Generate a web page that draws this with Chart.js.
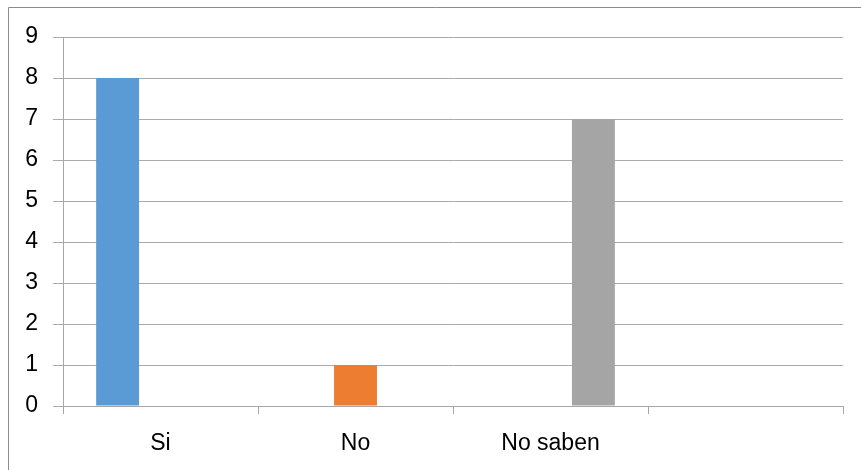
<!DOCTYPE html>
<html>
<head>
<meta charset="utf-8">
<script src="https://cdn.jsdelivr.net/npm/chart.js@4/dist/chart.umd.min.js"></script>
<style>
  html, body { margin: 0; padding: 0; background: #ffffff; }
  #wrap { width: 861px; height: 470px; position: relative; }
</style>
</head>
<body>
<div id="wrap"><canvas id="chart" width="861" height="470"></canvas></div>
<script>
// Survey answers: each answer is its own series, placed in its own category
const categories = ['Si', 'No', 'No saben', ''];
const siValues = [8, null, null, null];
const noValues = [null, 1, null, null];
const noSabenValues = [null, null, 7, null];
const yTicks = [0, 1, 2, 3, 4, 5, 6, 7, 8, 9];

const FONT = { family: '"Liberation Sans", Arial, sans-serif', size: 23 };

// Thin frame along the top and left of the chart box
const framePlugin = {
  id: 'frame',
  beforeDraw(chart) {
    const ctx = chart.ctx;
    ctx.save();
    ctx.fillStyle = '#ffffff';
    ctx.fillRect(0, 0, chart.width, chart.height);
    ctx.strokeStyle = '#8c8c8c';
    ctx.lineWidth = 1;
    ctx.beginPath();
    ctx.moveTo(8.5, chart.height + 5);
    ctx.lineTo(8.5, 7.5);
    ctx.lineTo(chart.width + 5, 7.5);
    ctx.stroke();
    ctx.restore();
  }
};

new Chart(document.getElementById('chart'), {
  type: 'bar',
  data: {
    labels: categories,
    datasets: [
      { label: 'Si', data: siValues, backgroundColor: '#5b9bd5' },
      { label: 'No', data: noValues, backgroundColor: '#ed7d31' },
      { label: 'No saben', data: noSabenValues, backgroundColor: '#a5a5a5' }
    ]
  },
  options: {
    responsive: false,
    animation: false,
    devicePixelRatio: 1,
    categoryPercentage: 0.66,
    barPercentage: 1,
    layout: { padding: { left: 0, top: 37, right: 18, bottom: 0 } },
    plugins: {
      legend: { display: false },
      tooltip: { enabled: false }
    },
    scales: {
      x: {
        offset: true,
        grid: {
          offset: true,
          drawOnChartArea: false,
          drawTicks: true,
          tickLength: 8,
          color: '#a6a6a6'
        },
        border: { color: '#a6a6a6' },
        ticks: { color: '#000000', font: FONT, padding: 16, maxRotation: 0, autoSkip: false },
        afterFit(scale) { scale.height = 64; }
      },
      y: {
        min: 0,
        max: 9,
        afterBuildTicks(scale) { scale.ticks = yTicks.map(v => ({ value: v })); },
        grid: { color: '#aaaaaa', tickLength: 10, drawTicks: true },
        border: { color: '#a6a6a6' },
        ticks: { color: '#000000', font: FONT, padding: 15 },
        afterFit(scale) { scale.width = 63; }
      }
    }
  },
  plugins: [framePlugin]
});
</script>
</body>
</html>
